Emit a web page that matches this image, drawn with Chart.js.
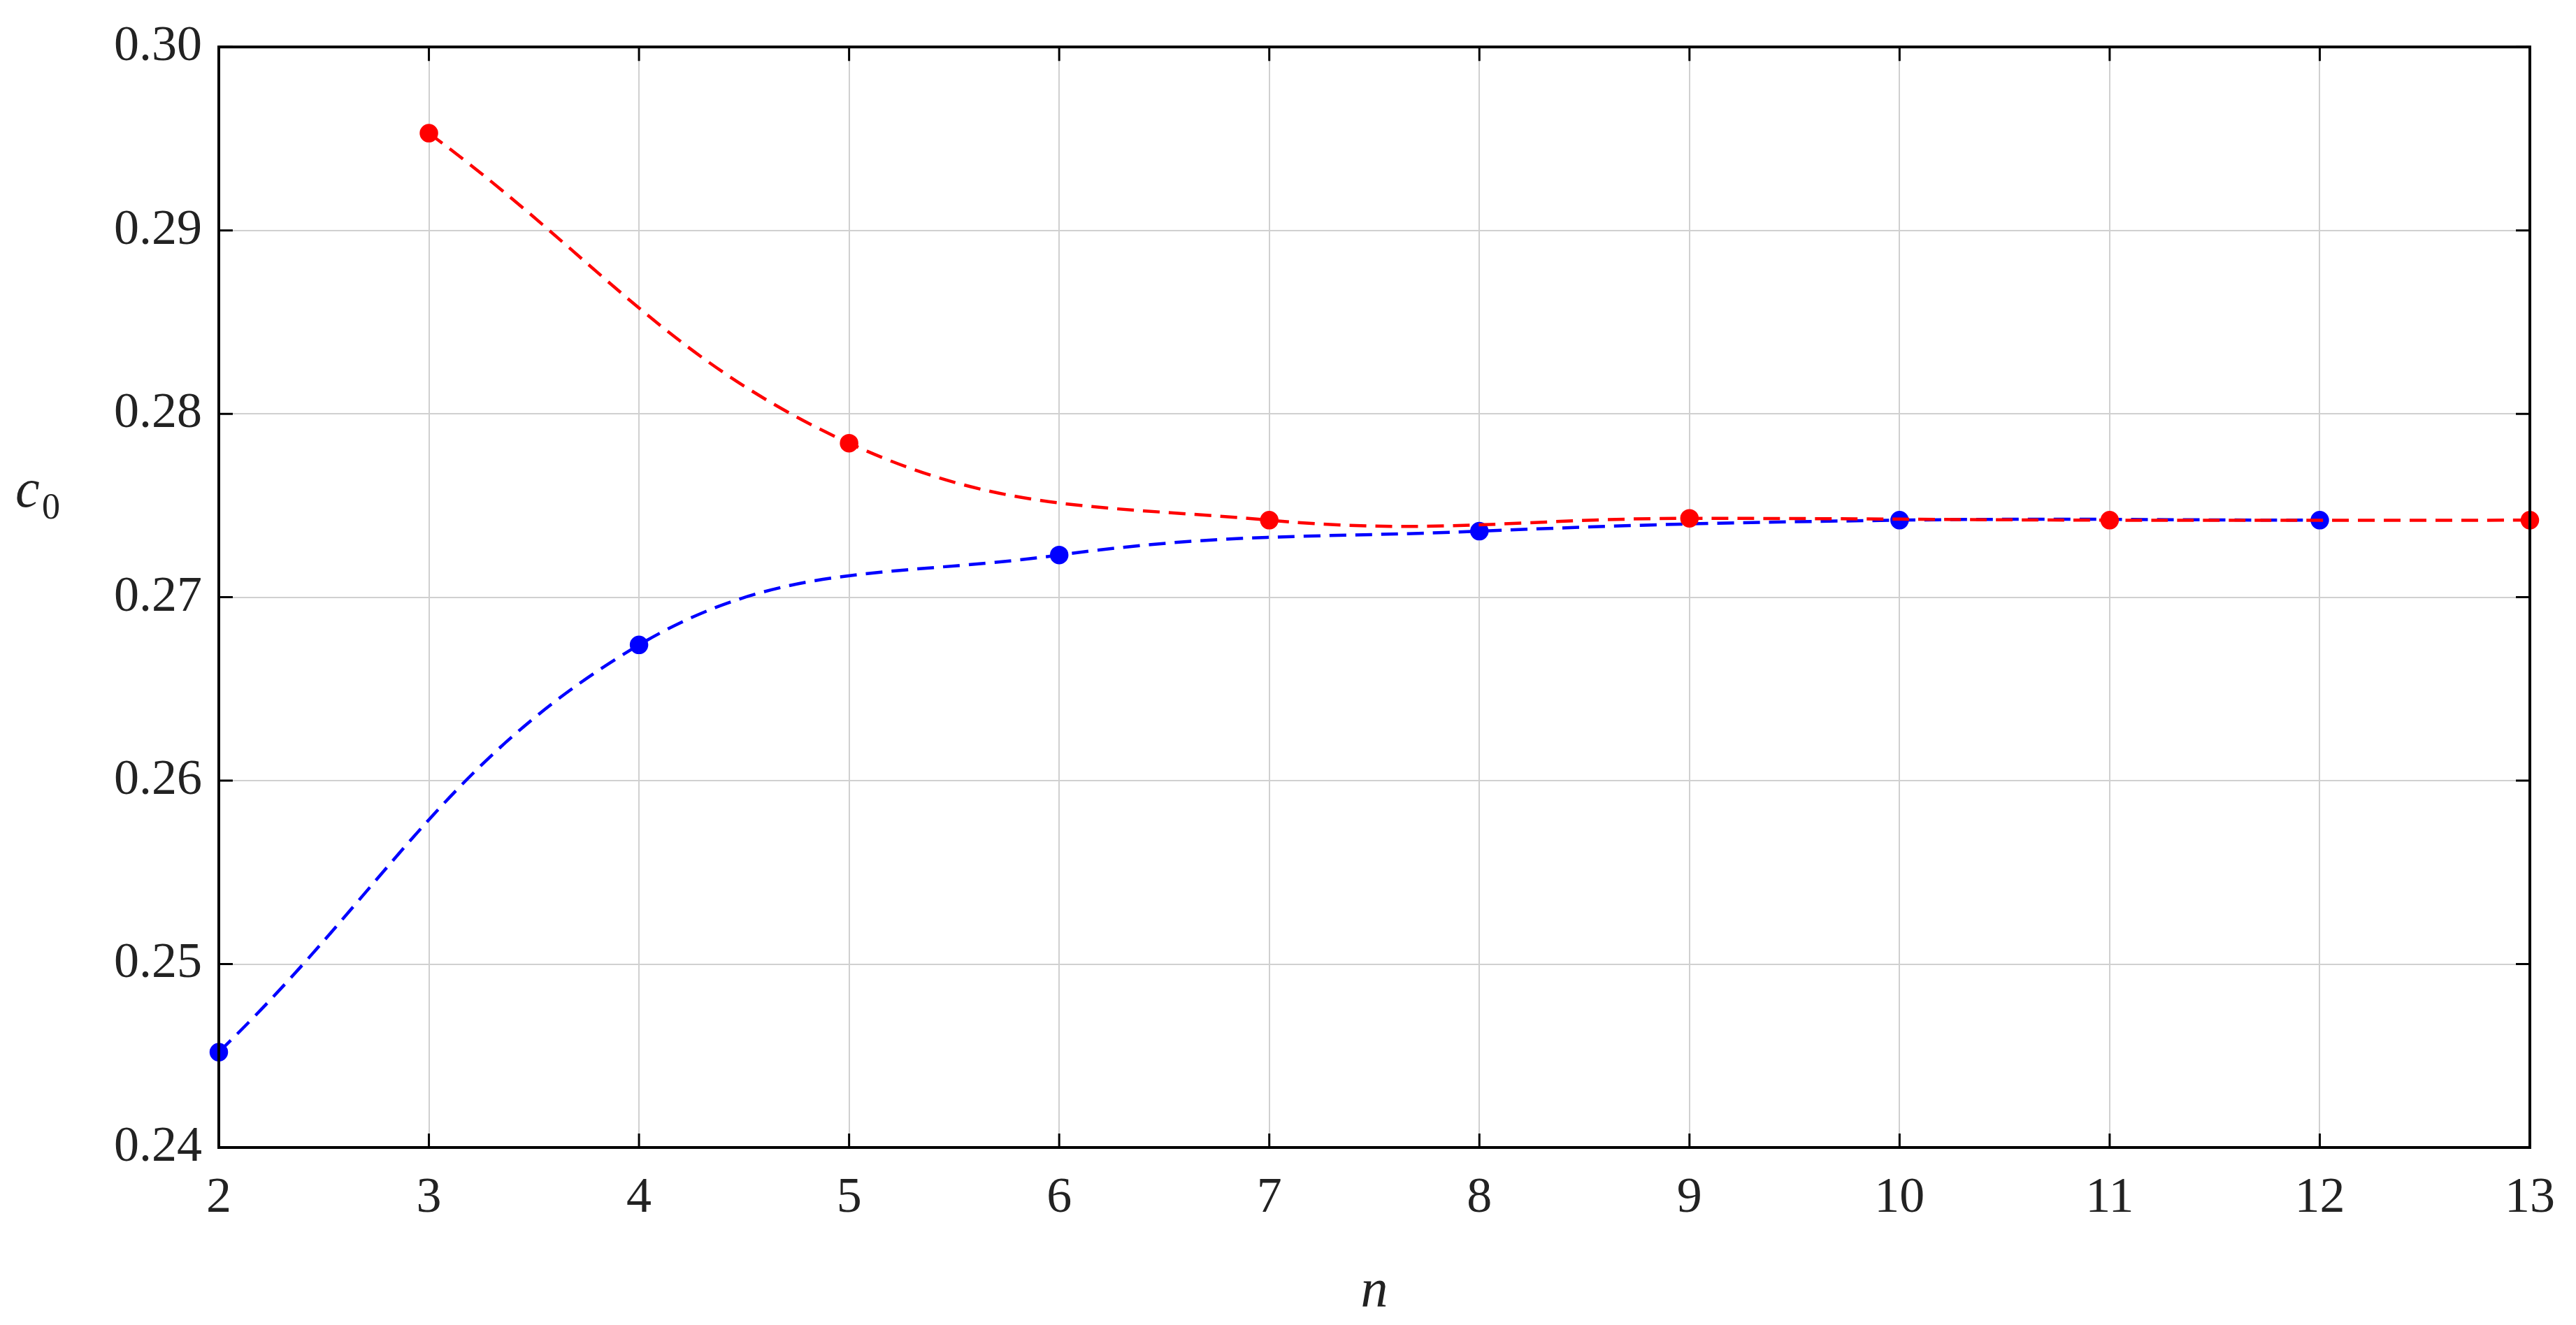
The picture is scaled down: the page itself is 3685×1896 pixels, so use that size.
<!DOCTYPE html>
<html><head><meta charset="utf-8">
<script src="https://cdn.jsdelivr.net/npm/chart.js@4"></script>
<style>html,body{margin:0;padding:0;background:#fff}#w{width:3685px;height:1896px}</style>
</head><body><div id="w"><canvas id="c"></canvas></div>
<script>
const redN = [3,5,7,9,11,13];
const redC = [0.2953,0.2784,0.2742,0.2743,0.2742,0.2742];
const blueN = [2,4,6,8,10,12];
const blueC = [0.2452,0.2674,0.2723,0.2736,0.2742,0.2742];
const xTicks = [2,3,4,5,6,7,8,9,10,11,12,13];
const yTicks = [0.24,0.25,0.26,0.27,0.28,0.29,0.30];
const toPts=(xs,ys)=>xs.map((x,i)=>({x:x,y:ys[i]}));
const F='"Liberation Serif","Times New Roman",serif';
const frame={id:'frame',afterDraw(ch){const a=ch.chartArea,ctx=ch.ctx;ctx.save();ctx.strokeStyle='#000';ctx.lineWidth=4;ctx.strokeRect(a.left,a.top,a.right-a.left,a.bottom-a.top);
ctx.lineWidth=3;const xs=ch.scales.x,ys=ch.scales.y;
xTicks.forEach(t=>{const p=xs.getPixelForValue(t);ctx.beginPath();ctx.moveTo(p,a.bottom);ctx.lineTo(p,a.bottom-20);ctx.moveTo(p,a.top);ctx.lineTo(p,a.top+20);ctx.stroke();});
yTicks.forEach(t=>{const p=ys.getPixelForValue(t);ctx.beginPath();ctx.moveTo(a.left,p);ctx.lineTo(a.left+20,p);ctx.moveTo(a.right,p);ctx.lineTo(a.right-20,p);ctx.stroke();});
ctx.fillStyle='#222';ctx.font='italic 78px '+F;ctx.textBaseline='middle';ctx.fillText('c',22,ys.getPixelForValue(0.2757));
ctx.font='52px '+F;ctx.fillText('0',60,ys.getPixelForValue(0.2748));
ctx.restore();}};
new Chart(document.getElementById('c'),{type:'line',
data:{datasets:[
{data:toPts(redN,redC),borderColor:'#ff0000',backgroundColor:'#ff0000',borderDash:[24,13],borderWidth:4.5,pointRadius:11,pointHoverRadius:11,tension:0.4},
{data:toPts(blueN,blueC),borderColor:'#0000ff',backgroundColor:'#0000ff',borderDash:[24,13],borderWidth:4.5,pointRadius:11,pointHoverRadius:11,tension:0.4}]},
options:{responsive:true,maintainAspectRatio:false,animation:false,clip:false,
layout:{padding:{top:42,right:50,left:0,bottom:0}},
plugins:{legend:{display:false},tooltip:{enabled:false}},
scales:{
x:{type:'linear',min:2,max:13,afterBuildTicks(s){s.ticks=xTicks.map(v=>({value:v}));},
grid:{color:'#d0d0d0',lineWidth:2,drawTicks:false},border:{display:false},
ticks:{padding:30,color:'#222',font:{family:F,size:72}},
title:{display:true,text:'n',color:'#222',font:{family:F,size:78,style:'italic'},padding:{top:14,bottom:0}}},
y:{min:0.24,max:0.30,afterBuildTicks(s){s.ticks=yTicks.map(v=>({value:v}));},
afterFit(s){s.width=313;},
grid:{color:'#d0d0d0',lineWidth:2,drawTicks:false},border:{display:false},
ticks:{padding:24,color:'#222',font:{family:F,size:72},callback:v=>v.toFixed(2)}}}},
plugins:[frame]});
</script></body></html>
